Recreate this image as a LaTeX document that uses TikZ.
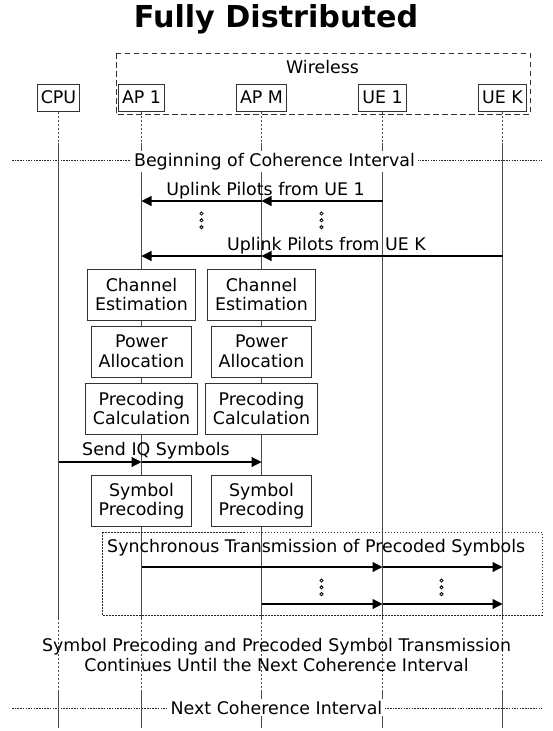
\documentclass[tikz,border=0pt]{standalone}
\usepackage{fontspec}
\setmainfont{DejaVu Sans}
\usepackage{tikz}
\usetikzlibrary{arrows.meta,positioning,calc}

\begin{document}
\begin{tikzpicture}[x=1pt,y=-1pt,
    txt/.style={font=\fontsize{17.4}{20}\selectfont, inner sep=0pt},
    actor/.style={draw=black!80, fill=white, line width=1pt, minimum height=27pt,
      inner xsep=3.8pt, inner ysep=0pt, font=\fontsize{17.4}{20}\selectfont},
    task/.style={draw=black!80, fill=white, line width=1pt, align=center,
      minimum height=51pt, inner xsep=7.2pt, inner ysep=0pt,
      font=\fontsize{17.4}{19.5}\selectfont},
    life/.style={black!70, line width=1.2pt},
    lifedot/.style={black!70, line width=1pt, dash pattern=on 2pt off 2pt},
    msg/.style={-{Triangle[length=10pt,width=10pt]}, line width=1.1pt},
    divline/.style={black!85, line width=0.8pt, dash pattern=on 1.5pt off 1.2pt},
    divtxt/.style={txt, fill=white, inner xsep=3pt, inner ysep=2pt, anchor=base}]
  \useasboundingbox (0,0) rectangle (552,731);

  % title and wireless group
  \node[font=\fontsize{30.2}{36}\selectfont\bfseries, anchor=base] (title) at (276,27) {Fully Distributed};
  \draw[black!80, line width=1pt, dash pattern=on 5.5pt off 3.5pt] (116,53) rectangle (530,114);
  \node[txt, anchor=base] (wireless) at (322.5,73) {Wireless};

  % participants
  \node[actor] (cpu) at (58.5,97.5) {CPU};
  \node[actor] (ap1) at (141.5,97.5) {AP 1};
  \node[actor] (apm) at (261.5,97.5) {AP M};
  \node[actor] (ue1) at (382.5,97.5) {UE 1};
  \node[actor] (uek) at (502.5,97.5) {UE K};

  % lifelines
  \foreach \p in {cpu,ap1,apm,ue1,uek} {
    \draw[lifedot] (\p.south) -- (\p |- 0,143);
    \draw[life] (\p |- 0,143) -- (\p |- 0,618);
    \draw[lifedot] (\p |- 0,618) -- (\p |- 0,692);
    \draw[life] (\p |- 0,692) -- (\p |- 0,728);
  }

  % beginning of coherence interval
  \draw[divline] (12,160) -- (542,160);
  \node[divtxt] (begin) at (274.5,166) {Beginning of Coherence Interval};

  % uplink pilots
  \coordinate (r1) at (0,201);
  \coordinate (rk) at (0,256);
  \draw[msg] (ue1 |- r1) -- (apm |- r1);
  \draw[msg] (apm |- r1) -- (ap1 |- r1);
  \node[txt, anchor=base] (pil1) at (265.5,195) {Uplink Pilots from UE 1};
  \draw[msg] (uek |- rk) -- (apm |- rk);
  \draw[msg] (apm |- rk) -- (ap1 |- rk);
  \node[txt, anchor=base] (pilk) at (326.5,250) {Uplink Pilots from UE K};
  \foreach \x/\y in {201.5/213.5, 321.5/213.5, 321.5/580.5, 441.5/580.5}
    \foreach \k in {0,1,2}
      \draw[line width=0.8pt] (\x,\y+\k*6.8) circle (1.6);

  % processing at the APs
  \foreach \p in {ap1,apm} {
    \node[task] (ce-\p) at (\p |- 0,294.5) {Channel\\Estimation};
    \node[task] (pa-\p) at (\p |- 0,351.5) {Power\\Allocation};
    \node[task] (pc-\p) at (\p |- 0,408.5) {Precoding\\Calculation};
    \node[task] (sp-\p) at (\p |- 0,501) {Symbol\\Precoding};
  }

  % IQ symbols from the CPU
  \coordinate (riq) at (0,462);
  \draw[msg] (cpu |- riq) -- (ap1 |- riq);
  \draw[msg] (ap1 |- riq) -- (apm |- riq);
  \node[txt, anchor=base] (iq) at (156,455) {Send IQ Symbols};

  % synchronous transmission
  \draw[black!85, line width=0.9pt, dash pattern=on 1.5pt off 1.5pt] (102,532) rectangle (542,615);
  \node[txt, anchor=base west] (sync) at (107,552.5) {Synchronous Transmission of Precoded Symbols};
  \coordinate (s1) at (0,567);
  \coordinate (s2) at (0,604);
  \draw[msg] (ap1 |- s1) -- (ue1 |- s1);
  \draw[msg] (ue1 |- s1) -- (uek |- s1);
  \draw[msg] (apm |- s2) -- (ue1 |- s2);
  \draw[msg] (ue1 |- s2) -- (uek |- s2);

  % delay and next interval
  \node[txt, anchor=base] (cont1) at (276.5,651) {Symbol Precoding and Precoded Symbol Transmission};
  \node[txt, anchor=base] (cont2) at (276.5,671) {Continues Until the Next Coherence Interval};
  \draw[divline] (12,708) -- (542,708);
  \node[divtxt] (next) at (276.5,714) {Next Coherence Interval};
\end{tikzpicture}
\end{document}
